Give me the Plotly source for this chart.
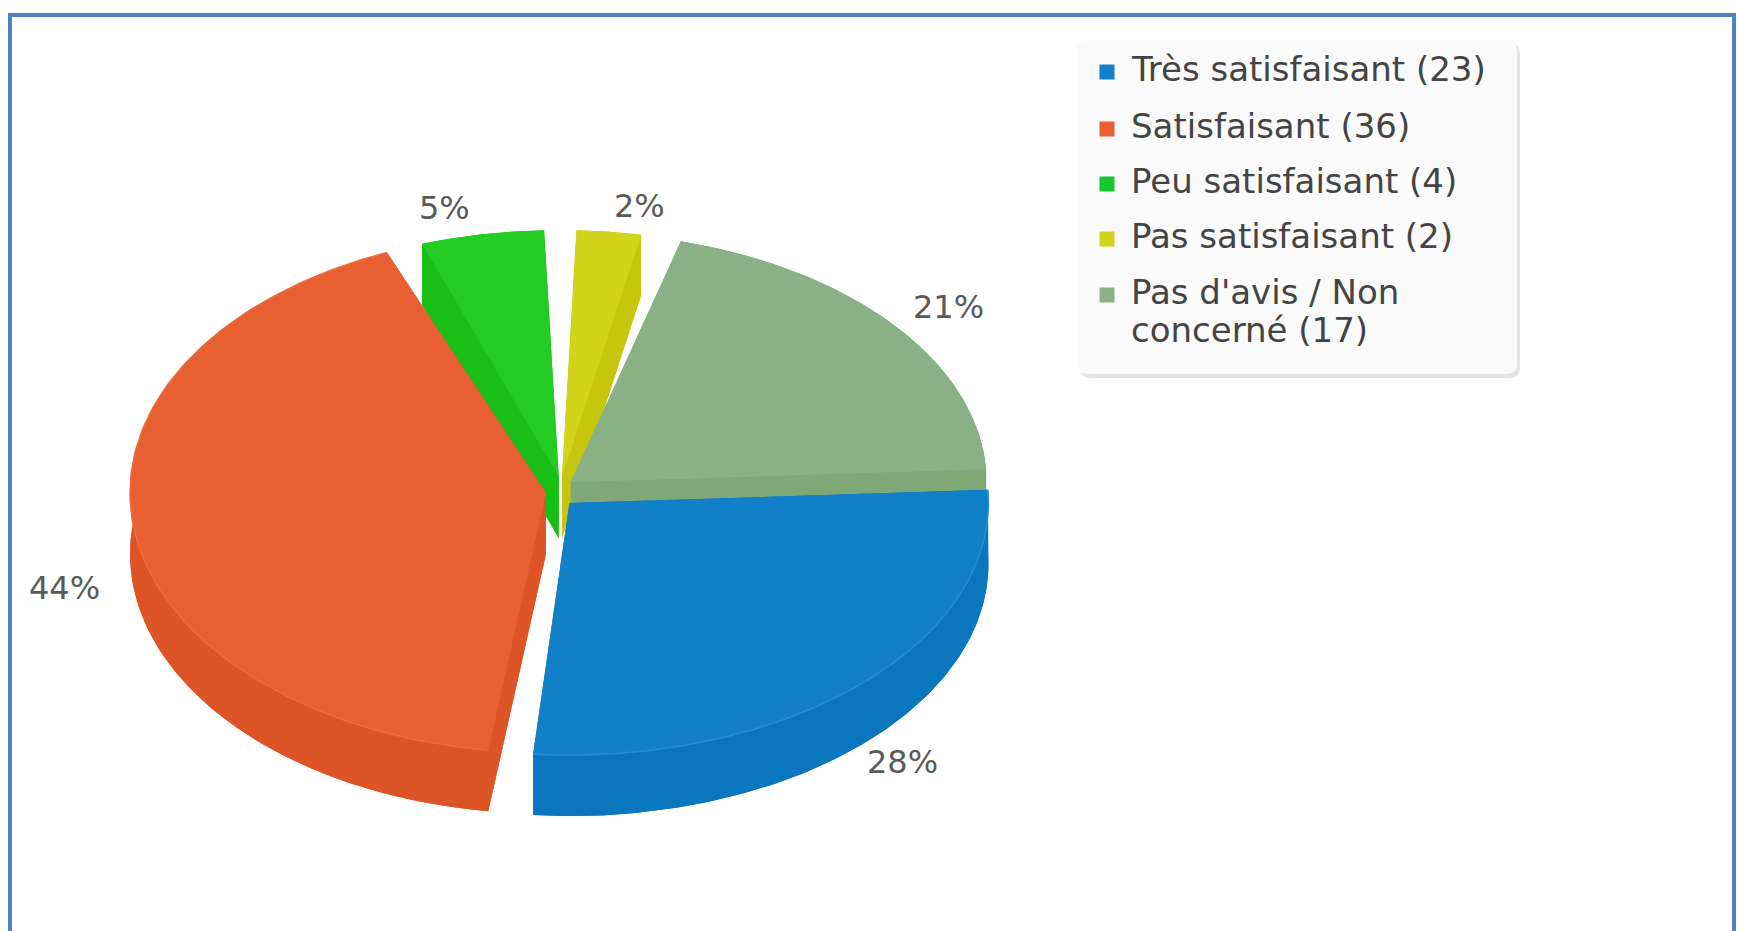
import numpy as np
import plotly.graph_objects as go

# ---- data ----
labels = ["Très satisfaisant", "Satisfaisant", "Peu satisfaisant", "Pas satisfaisant", "Pas d'avis / Non<br>concerné"]
values = [23, 36, 4, 2, 17]

# ---- styles ----
top_colors = ["#1280c8", "#e86031", "#22cc22", "#d2d41c", "#89b185"]
wall_colors = ["#0a76be", "#dd5526", "#17bf17", "#c6c60e", "#7fa877"]
rim_colors = ["#2a8dd0", "#ec6c3f", None, None, None]
legend_colors = ["#1280c8", "#e86031", "#18c72e", "#d2d41c", "#89b185"]

# ---- projection of the tilted pie on to the page ----
CX, CY = 560, 492      # centre of the disc
RX = [419, 416, 416, 416, 416]   # ellipse radii seen per slice (the view is not quite orthographic)
RY = [252, 260, 247, 247, 250]
DEPTH = 61             # thickness on the page
EX, EY = 14, 15        # how far every slice is pulled out
START = -3             # where the first slice starts (deg, clockwise from east)
# small per-slice angle corrections for the view distortion (start, end)
NUDGE = [(0, -3), (0, -8.5), (-5.2, -5.6), (-1.6, -1.4), (3, 0)]
DRAW_ORDER = [2, 3, 4, 1, 0]   # back to front
LABEL_POS = [(902, 762), (64, 588), (444, 208), (639, 206), (948, 307)]

# ---- legend layout ----
LEGEND_MARK_X, LEGEND_TEXT_X = 1107, 1129
LEGEND_ROWS = [69, 126, 181, 236, 292]
LEGEND_LINE = 38

total = sum(values)
edges = START + np.cumsum([0] + values) / total * 360.0

fig = go.Figure()


def poly(xs, ys, color):
    fig.add_trace(go.Scatter(x=xs, y=ys, mode="lines", fill="toself", fillcolor=color,
                             line=dict(width=0, color=color), hoverinfo="skip", showlegend=False))


for i in DRAW_ORDER:
    t_mid = np.radians((edges[i] + edges[i + 1]) / 2)
    ax = CX + EX * np.cos(t_mid)
    ay = CY + EY * np.sin(t_mid)
    t = np.radians(np.linspace(edges[i] + NUDGE[i][0], edges[i + 1] + NUDGE[i][1], 120))
    ox = ax + RX[i] * np.cos(t)
    oy = ay + RY[i] * np.sin(t)
    # underside and walls
    poly(np.r_[ax, ox, ax], np.r_[ay, oy, ay] + DEPTH, wall_colors[i])
    poly(np.r_[ox, ox[::-1], ox[0]], np.r_[oy, oy[::-1] + DEPTH, oy[0]], wall_colors[i])
    for j in (0, -1):
        poly([ax, ox[j], ox[j], ax, ax], [ay, oy[j], oy[j] + DEPTH, ay + DEPTH, ay], wall_colors[i])
    # top face
    poly(np.r_[ax, ox, ax], np.r_[ay, oy, ay], top_colors[i])
    if rim_colors[i]:
        fig.add_trace(go.Scatter(x=ox, y=oy, mode="lines", line=dict(width=1.5, color=rim_colors[i]),
                                 hoverinfo="skip", showlegend=False))

# legend: square keys and text
fig.add_trace(go.Scatter(x=[LEGEND_MARK_X] * len(values), y=[r + 3 for r in LEGEND_ROWS], mode="markers",
                         marker=dict(symbol="square", size=15, color=legend_colors), hoverinfo="skip",
                         showlegend=False))
for lab, val, row in zip(labels, values, LEGEND_ROWS):
    for k, line in enumerate(f"{lab} ({val})".split("<br>")):
        fig.add_annotation(x=LEGEND_TEXT_X, y=row + k * LEGEND_LINE, text=line, showarrow=False,
                           xref="x", yref="y", xanchor="left", yanchor="middle",
                           font=dict(family="DejaVu Sans", size=34, color="#444444"))

# percentage labels
for i, val in enumerate(values):
    fig.add_annotation(x=LABEL_POS[i][0], y=LABEL_POS[i][1], text=f"{round(100 * val / total)}%",
                       showarrow=False, xref="x", yref="y",
                       font=dict(family="DejaVu Sans", size=32, color="#5a5a5a"))


def rounded(x0, y0, x1, y1, r):
    return (f"M{x0+r},{y0} L{x1-r},{y0} Q{x1},{y0} {x1},{y0+r} L{x1},{y1-r} Q{x1},{y1} {x1-r},{y1} "
            f"L{x0+r},{y1} Q{x0},{y1} {x0},{y1-r} L{x0},{y0+r} Q{x0},{y0} {x0+r},{y0} Z")


shapes = [
    dict(type="path", path=rounded(1080, 43, 1520, 378, 11), fillcolor="#e4e4e4", line=dict(width=0), layer="below"),
    dict(type="path", path=rounded(1077, 40, 1517, 374, 11), fillcolor="#fafafa", line=dict(width=0), layer="below"),
    dict(type="path", path="M10,940 L10,15 L1734,15 L1734,940", line=dict(color="#4f81c4", width=4), layer="above"),
]

fig.update_layout(
    width=1739, height=931, margin=dict(l=0, r=0, t=0, b=0),
    paper_bgcolor="white", plot_bgcolor="white", showlegend=False,
    xaxis=dict(range=[0, 1739], visible=False, fixedrange=True),
    yaxis=dict(range=[931, 0], visible=False, fixedrange=True),
    shapes=shapes,
)

fig.write_html("out.html", post_script="document.body.style.margin='0';", config={"displayModeBar": False})
